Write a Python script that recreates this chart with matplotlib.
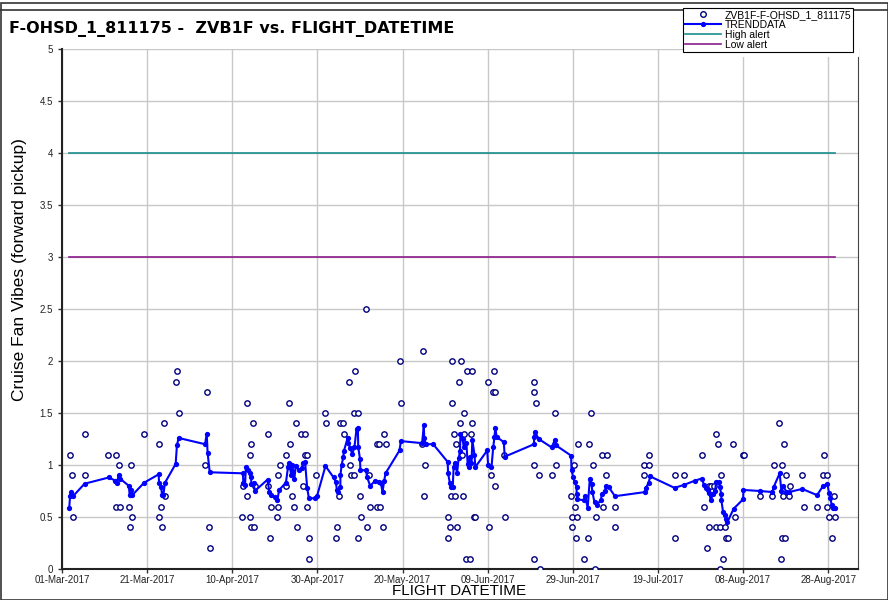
import numpy as np
import matplotlib
matplotlib.use("Agg")
import matplotlib.pyplot as plt
from matplotlib.patches import Rectangle
from matplotlib.lines import Line2D
import pandas as pd

# days after 01-Mar-2017 and raw vibration readings
raw_days = [1.9, 2.4, 2.6, 5.3, 5.5, 10.9, 12.8, 13.4, 12.8, 13.7, 15.7, 16.3, 16.5, 15.9,
            19.3, 22.7, 24.0, 22.9, 23.3, 23.6, 24.2, 27.0, 26.7, 27.4, 34.0, 33.6, 34.5, 34.7,
            43.4, 44.9, 44.3, 44.1, 42.4, 44.1, 44.5, 45.2, 43.4, 42.6, 45.3, 48.3, 51.1, 50.8,
            48.5, 49.0, 50.7, 50.4, 48.8, 53.3, 54.9, 53.6, 52.7, 52.7, 54.1, 54.6, 55.2, 56.1,
            57.0, 57.2, 57.5, 56.5, 57.6, 58.0, 58.0, 59.7, 61.7, 62.0, 64.6, 64.4, 65.1, 65.4,
            66.0, 66.2, 67.4, 68.9, 68.7, 69.5, 67.6, 68.0, 68.5, 69.6, 70.0, 70.2, 71.4, 71.7,
            72.2, 72.4, 74.0, 74.1,
            74.4, 76.0, 75.7, 74.8, 75.3, 79.3, 79.6, 84.9, 84.6, 85.3, 85.1, 91.6, 93.8, 95.2,
            96.3, 93.2, 91.6, 94.4, 93.5, 96.4, 92.0, 94.5, 96.0, 92.5, 94.0, 91.4, 92.4, 94.2,
            90.7, 96.9, 97.1, 91.1, 92.8, 90.7, 95.0, 95.8, 101.4, 100.0, 101.3, 101.8, 100.9,
            101.8, 100.3, 103.8, 104.0, 110.9, 110.9, 111.3, 111.0, 111.0,
            112.0, 115.8, 116.0, 115.0, 112.3, 119.6, 119.9, 121.1, 119.7, 120.3, 120.5, 120.7,
            121.3, 123.8, 124.2, 124.8, 122.7, 123.6, 125.2, 125.5, 126.8, 128.0, 127.7, 127.2,
            129.9, 129.8, 136.8, 137.8, 136.8, 137.9, 143.9, 144.0, 146.2,
            150.3, 150.9, 151.6, 151.9, 152.5, 153.1, 153.7, 154.2, 154.9, 152.1, 153.7, 154.6,
            155.7, 156.0, 156.4, 155.2, 154.6, 157.7, 158.0, 160.0, 160.3, 164.0, 166.9, 167.2,
            169.2, 168.4, 169.6, 170.2, 169.2, 169.8, 169.0, 171.0, 169.4, 170.7, 173.9, 174.2,
            177.4, 178.9, 178.8, 179.8, 179.8, 181.3, 180.2, 181.5, 180.8]
raw_vals = [1.1, 0.9, 0.5, 1.3, 0.9, 1.1, 1.1, 1.0, 0.6, 0.6, 0.6, 1.0, 0.5, 0.4,
            1.3, 1.2, 1.4, 0.5, 0.6, 0.4, 0.7, 1.9, 1.8, 1.5, 1.7, 1.0, 0.4, 0.2,
            1.6, 1.4, 1.2, 1.1, 0.5, 0.5, 0.4, 0.4, 0.7, 0.8, 0.8, 1.3, 1.0, 0.9,
            0.8, 0.6, 0.6, 0.5, 0.3, 1.6, 1.4, 1.2, 1.1, 0.8, 0.7, 0.6, 0.4, 1.3,
            1.3, 1.1, 1.1, 0.8, 0.6, 0.3, 0.1, 0.9, 1.5, 1.4, 0.4, 0.3, 0.7, 1.4,
            1.4, 1.3, 1.8, 1.9, 1.5, 1.5, 1.0, 0.9, 0.9, 0.3, 0.7, 0.5, 2.5, 0.4,
            0.9, 0.6, 1.2, 0.6,
            1.2, 1.2, 1.3, 0.6, 0.4, 2.0, 1.6, 2.1, 1.2, 1.0, 0.7, 2.0, 2.0, 1.9,
            1.9, 1.8, 1.6, 1.5, 1.4, 1.4, 1.3, 1.3, 1.3, 1.2, 1.1, 0.7, 0.7, 0.7,
            0.5, 0.5, 0.5, 0.4, 0.4, 0.3, 0.1, 0.1, 1.9, 1.8, 1.7, 1.7, 0.9,
            0.8, 0.4, 1.1, 0.5, 1.8, 1.7, 1.6, 1.0, 0.1,
            0.9, 1.5, 1.0, 0.9, 0.0, 0.7, 0.5, 0.5, 0.4, 1.0, 0.6, 0.3,
            1.2, 1.2, 1.5, 1.0, 0.1, 0.3, 0.0, 0.5, 1.1, 1.1, 0.9, 0.6,
            0.6, 0.4, 1.0, 1.0, 0.9, 1.1, 0.3, 0.9, 0.9,
            1.1, 0.6, 0.2, 0.8, 0.8, 0.8, 1.3, 1.2, 0.9, 0.4, 0.4, 0.4,
            0.4, 0.3, 0.3, 0.1, 0.0, 1.2, 0.5, 1.1, 1.1, 0.7, 0.7, 1.0,
            1.0, 1.4, 1.2, 0.9, 0.3, 0.3, 0.1, 0.8, 0.7, 0.7, 0.9, 0.6,
            0.6, 1.1, 0.9, 0.9, 0.6, 0.7, 0.5, 0.5, 0.3]

trend_days = [1.7, 1.9, 2.2, 2.6, 5.3, 11.0, 12.5, 12.9, 13.3, 13.6, 15.7, 15.9, 16.3, 16.5,
              19.3, 22.7, 22.8, 23.3, 23.5, 23.8, 24.2, 26.7, 27.0, 27.4, 33.6, 34.0, 34.2, 34.7,
              42.5, 42.6, 43.0, 43.2, 43.7, 44.2, 44.4, 44.5, 45.0, 45.3,
              48.3, 48.7, 49.0, 50.0, 50.6, 51.0, 52.6, 53.1, 53.3, 53.9, 54.1, 54.6, 54.9, 55.7,
              56.3, 56.7, 57.1, 57.6, 58.0, 59.4, 59.9, 61.9, 63.8, 64.3, 64.6, 64.9, 65.4, 65.4,
              65.7, 66.1, 66.2, 67.1, 67.3, 67.7, 68.2, 68.7, 69.2, 69.5, 69.6, 70.0, 70.1, 71.4,
              71.7, 72.4, 73.6, 74.4, 74.9, 75.3, 75.7, 76.0, 79.3, 79.6, 84.6, 85.0, 85.1, 85.4,
              87.2, 90.6, 90.7, 91.1, 91.4, 91.8, 92.0, 92.4, 92.8, 93.2, 93.5, 93.6, 94.1, 94.4,
              95.0, 95.3, 95.6, 95.8, 96.2, 96.4, 96.9, 97.1, 99.9, 100.1, 100.9, 101.3, 101.6,
              101.8, 102.1, 103.8, 104.0, 110.9, 110.9, 111.1, 112.0, 115.0, 115.8, 116.0, 119.6,
              119.7, 120.1, 120.4, 120.9, 120.9, 121.1, 122.7, 122.9, 123.5, 124.0, 124.4, 124.6,
              125.1, 125.6, 126.6, 126.8, 127.6, 127.7, 128.4, 129.9, 137.0, 137.2, 137.8, 138.2,
              143.9, 146.2, 148.7, 150.3, 150.8, 151.3, 151.7, 152.1, 152.4, 152.9, 153.4, 153.7,
              154.3, 154.5, 154.9, 154.9, 155.3, 155.7, 156.0, 156.3, 157.8, 160.0, 160.1, 164.0,
              166.9, 167.2, 168.6, 169.0, 169.4, 170.2, 170.8, 173.9, 177.4, 178.8, 179.8, 180.2,
              180.5, 180.8, 181.1, 181.5]
trend_vals = [0.59, 0.70, 0.74, 0.70, 0.82, 0.88, 0.85, 0.83, 0.90, 0.87, 0.80, 0.71, 0.76, 0.71,
              0.83, 0.91, 0.83, 0.79, 0.71, 0.71, 0.83, 1.01, 1.19, 1.26, 1.20, 1.30, 1.12, 0.93,
              0.92, 0.83, 0.81, 0.98, 0.95, 0.92, 0.88, 0.82, 0.83, 0.75,
              0.86, 0.74, 0.71, 0.69, 0.66, 0.76, 0.83, 0.98, 1.02, 0.90, 1.00, 0.87, 0.99, 0.95,
              0.97, 1.02, 1.03, 0.78, 0.68, 0.68, 0.70, 0.99, 0.88, 0.84, 0.76, 0.74, 0.79, 0.90,
              1.00, 1.08, 1.13, 1.26, 1.21, 1.16, 1.11, 1.17, 1.35, 1.36, 1.17, 1.06, 0.95, 0.95,
              0.88, 0.80, 0.85, 0.84, 0.83, 0.74, 0.85, 0.92, 1.14, 1.23, 1.21, 1.38, 1.26, 1.20,
              1.20, 1.03, 0.92, 0.83, 0.79, 0.79, 0.98, 1.02, 0.92, 1.07, 1.13, 1.30, 1.25, 1.17,
              1.21, 1.01, 0.98, 1.08, 1.02, 1.24, 1.10, 0.98, 1.14, 1.00, 0.98, 1.17, 1.27,
              1.36, 1.27, 1.22, 1.08, 1.20, 1.27, 1.32, 1.25, 1.17, 1.24, 1.19, 1.09,
              0.95, 0.88, 0.84, 0.79, 0.72, 0.67, 0.66, 0.70, 0.59, 0.87, 0.82, 0.74,
              0.64, 0.62, 0.66, 0.72, 0.75, 0.80, 0.79, 0.70, 0.74, 0.78, 0.83, 0.89,
              0.78, 0.81, 0.85, 0.87, 0.81, 0.78, 0.76, 0.73, 0.66, 0.72, 0.75, 0.84,
              0.84, 0.79, 0.72, 0.66, 0.55, 0.52, 0.48, 0.45, 0.58, 0.67, 0.76, 0.75,
              0.74, 0.79, 0.92, 0.75, 0.80, 0.74, 0.74, 0.77, 0.71, 0.80, 0.82, 0.73,
              0.68, 0.62, 0.59, 0.59]

high_alert = 4.0
low_alert = 3.0

start = pd.Timestamp("2017-03-01")
tick_labels = ["01-Mar-2017", "21-Mar-2017", "10-Apr-2017", "30-Apr-2017", "20-May-2017",
               "09-Jun-2017", "29-Jun-2017", "19-Jul-2017", "08-Aug-2017", "28-Aug-2017"]


def to_dates(days):
    return start + pd.to_timedelta(np.array(days), unit="D")


def main():
    plt.rcParams["font.family"] = ["Liberation Sans", "DejaVu Sans"]
    fig = plt.figure(figsize=(8.88, 6.0), dpi=100)
    ax = fig.add_axes([62 / 888, 1 - 569 / 600, 796 / 888, 520 / 600])

    raw_x = to_dates(raw_days)
    trend_x = to_dates(trend_days)
    alert_x = to_dates([trend_days[0], trend_days[-1]])

    ax.plot(alert_x, [high_alert] * 2, color="#1a8c8c", lw=1.2, zorder=2)
    ax.plot(alert_x, [low_alert] * 2, color="#8b1a8b", lw=1.2, zorder=2)
    ax.scatter(raw_x, raw_vals, s=15, facecolor="white", edgecolor="#000080",
               linewidth=1.0, zorder=3)
    ax.plot(trend_x, trend_vals, color="#0000ff", lw=1.5, marker="o", ms=3.8,
            markeredgewidth=0, zorder=4)

    ax.set_ylim(0, 5)
    ax.set_yticks(np.arange(0, 5.01, 0.5))
    ax.set_yticklabels(["%g" % v for v in np.arange(0, 5.01, 0.5)])
    ax.set_xlim(start, start + pd.Timedelta(days=187))
    ax.set_xticks(to_dates(np.arange(0, 181, 20)))
    ax.set_xticklabels(tick_labels)
    ax.tick_params(axis="both", labelsize=7, length=3, width=1, colors="#333333",
                   labelcolor="#222222")
    ax.tick_params(axis="x", labelsize=7, pad=1.5)
    ax.grid(True, color="#c8c8c8", lw=1)
    ax.set_axisbelow(True)
    for side in ["left", "bottom"]:
        ax.spines[side].set_linewidth(1.5)
        ax.spines[side].set_color("#222222")
    ax.spines["right"].set_color("#444444")
    ax.spines["top"].set_visible(False)

    fig.text(20 / 888, 1 - 270 / 600, "Cruise Fan Vibes (forward pickup)", fontsize=12.5,
             rotation=90, ha="center", va="center")
    fig.text(459 / 888, 1 - 598 / 600, "FLIGHT DATETIME", fontsize=11,
             ha="center", va="bottom")

    fig.text(9 / 888, 1 - 29 / 600, "F-OHSD_1_811175 -  ZVB1F vs. FLIGHT_DATETIME",
             fontsize=11.5, fontweight="bold", va="center", ha="left",
             family=["DejaVu Sans"])

    # outer frames
    fig.add_artist(Rectangle((1 / 888, 0), 887 / 888, 597 / 600, transform=fig.transFigure,
                             fill=False, edgecolor="#333333", lw=1.2))
    fig.add_artist(Line2D([0, 1], [1 - 10 / 600] * 2, transform=fig.transFigure,
                          color="#333333", lw=1.2))

    handles = [
        Line2D([], [], ls="none", marker="o", ms=4, mfc="white", mec="#000080"),
        Line2D([], [], color="#0000ff", lw=1.5, marker="o", ms=3.8, markeredgewidth=0),
        Line2D([], [], color="#1a8c8c", lw=1.2),
        Line2D([], [], color="#8b1a8b", lw=1.2),
    ]
    labels = ["ZVB1F-F-OHSD_1_811175", "TRENDDATA", "High alert", "Low alert"]
    leg = fig.legend(handles, labels, loc="upper left",
                     bbox_to_anchor=(683 / 888, 1 - 8 / 600), fontsize=7.5,
                     frameon=True, fancybox=False, edgecolor="black", framealpha=1,
                     borderaxespad=0, handlelength=3.4, handletextpad=0.4,
                     labelspacing=0.0, borderpad=0.2,
                     shadow={"ox": 3, "oy": -3, "shade": 0.0, "alpha": 1})
    leg.get_frame().set_linewidth(0.8)

    fig.savefig("out.png", dpi=100)


if __name__ == "__main__":
    main()
